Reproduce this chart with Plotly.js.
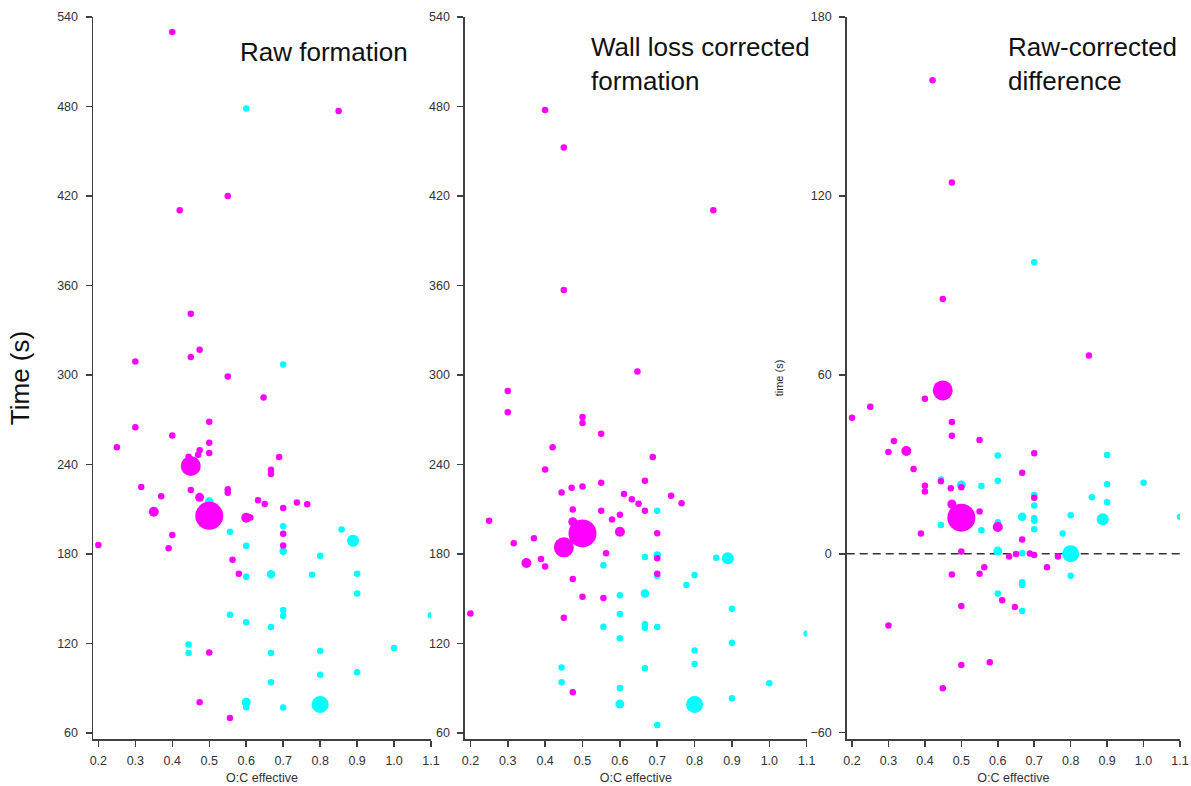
<!DOCTYPE html>
<html>
<head>
<meta charset="utf-8">
<script src="https://cdn.plot.ly/plotly-3.0.1.min.js"></script>
<style>
  html, body { margin: 0; padding: 0; background: #ffffff; }
  #chart { width: 1191px; height: 786px; }
</style>
</head>
<body>
<div id="chart"></div>
<script>
// ---- Raw formation: time (s) vs effective O:C ----
const rawMagentaOC = [0.4, 0.85, 0.55, 0.42, 0.45, 0.474, 0.45, 0.3, 0.55, 0.647, 0.3, 0.5, 0.4, 0.25, 0.5, 0.474, 0.47, 0.5, 0.689, 0.444, 0.45, 0.667, 0.667, 0.316, 0.45, 0.55, 0.55, 0.37, 0.474, 0.632, 0.65, 0.737, 0.765, 0.7, 0.35, 0.5, 0.6, 0.611, 0.4, 0.7, 0.2, 0.7, 0.39, 0.563, 0.58, 0.5, 0.474, 0.556];
const rawMagentaTime = [530, 477, 420, 410.5, 341, 317, 312, 309, 299, 285, 265, 268.6, 259.5, 251.5, 254.6, 249.5, 246.5, 247.7, 245, 245.2, 239, 236.5, 233.6, 225, 223, 223.5, 221, 218.8, 218, 216, 213.5, 214.6, 213.3, 210.8, 208.3, 205.6, 204.3, 204.5, 192.7, 193.6, 186, 185.7, 183.8, 176.2, 166.8, 114, 80.6, 70];
const rawMagentaWeight = [6.5, 6.5, 6.5, 6.5, 6.5, 6.5, 6.5, 6.5, 6.5, 6.5, 6.5, 6.5, 6.5, 6.5, 6.5, 6.5, 6.5, 6.5, 6.5, 6.5, 20, 6.5, 6.5, 6.5, 6.5, 6.5, 6.5, 6.5, 9, 6.5, 6.5, 6.5, 6.5, 6.5, 10, 28, 10, 6.5, 6.5, 6.5, 6.5, 6.5, 6.5, 6.5, 6.5, 6.5, 6.5, 6.5];

const rawCyanOC = [0.6, 0.7, 0.5, 0.7, 0.556, 0.858, 0.889, 0.6, 0.7, 0.8, 0.667, 0.6, 0.778, 0.9, 0.9, 0.7, 0.7, 0.556, 0.6, 0.667, 0.444, 0.444, 0.667, 0.8, 1.0, 0.8, 0.9, 0.667, 0.6, 0.6, 0.7, 0.8, 1.1];
const rawCyanTime = [478.7, 307, 215, 198.7, 194.9, 196.5, 188.9, 185.5, 181.8, 178.8, 166.4, 164.8, 166.1, 166.8, 153.6, 142.4, 138.6, 139.3, 134.2, 131, 119.4, 113.6, 113.6, 115, 117, 99.1, 100.7, 94, 80.6, 77.3, 77.2, 79.2, 139];
const rawCyanWeight = [6.5, 6.5, 9, 6.5, 6.5, 6.5, 12, 6.5, 7.5, 6.5, 8.5, 6.5, 6.5, 6.5, 6.5, 6.5, 6.5, 6.5, 6.5, 6.5, 6.5, 6.5, 6.5, 6.5, 6.5, 6.5, 6.5, 6.5, 9, 6.5, 6.5, 17, 6.5];

// ---- Wall loss corrected formation ----
const corMagentaOC = [0.4, 0.45, 0.85, 0.45, 0.647, 0.3, 0.3, 0.5, 0.5, 0.55, 0.42, 0.688, 0.4, 0.667, 0.55, 0.5, 0.471, 0.444, 0.611, 0.632, 0.65, 0.737, 0.765, 0.474, 0.55, 0.667, 0.6, 0.579, 0.25, 0.474, 0.5, 0.6, 0.7, 0.37, 0.45, 0.316, 0.563, 0.7, 0.389, 0.35, 0.4, 0.7, 0.474, 0.5, 0.556, 0.2, 0.45, 0.474];
const corMagentaTime = [477.6, 452.5, 410.5, 357, 302.4, 289.3, 275.1, 271.8, 267.8, 260.6, 251.5, 245, 236.7, 229.1, 227.8, 225.3, 224.4, 221.3, 220.2, 216.8, 213.7, 219, 214, 209.9, 209, 209, 206.3, 203.2, 202.3, 201.6, 193.8, 194.9, 194, 190.5, 184.5, 187.3, 180.6, 177.1, 176.6, 174, 171.7, 166.8, 163.2, 151.4, 150.5, 140.2, 137.3, 87.3];
const corMagentaWeight = [6.5, 6.5, 6.5, 6.5, 6.5, 6.5, 6.5, 6.5, 6.5, 6.5, 6.5, 6.5, 6.5, 6.5, 6.5, 6.5, 6.5, 6.5, 6.5, 6.5, 6.5, 6.5, 6.5, 6.5, 6.5, 6.5, 6.5, 6.5, 6.5, 9, 28, 10, 6.5, 6.5, 20, 6.5, 6.5, 6.5, 6.5, 10, 6.5, 6.5, 6.5, 6.5, 6.5, 6.5, 6.5, 6.5];

const corCyanOC = [0.7, 0.5, 0.7, 0.667, 0.858, 0.889, 0.556, 0.7, 0.8, 0.778, 0.667, 0.6, 0.9, 0.6, 0.556, 0.667, 0.667, 0.7, 0.6, 0.9, 0.8, 0.8, 0.444, 0.667, 0.444, 1.0, 0.6, 0.9, 0.6, 0.8, 0.7, 1.1];
const corCyanTime = [209, 192, 179.3, 178, 177.5, 177.1, 172.4, 165.4, 165.9, 159.2, 153.6, 152.3, 143.3, 139.8, 131.2, 132.9, 130.6, 131, 123.5, 120.5, 115.4, 106.2, 104, 103.4, 94, 93.3, 90.2, 83.3, 79.4, 79.2, 65.4, 126.8];
const corCyanWeight = [6.5, 9, 7.5, 6.5, 6.5, 12, 6.5, 6.5, 6.5, 6.5, 8.5, 6.5, 6.5, 6.5, 6.5, 6.5, 6.5, 6.5, 6.5, 6.5, 6.5, 6.5, 6.5, 6.5, 6.5, 6.5, 6.5, 6.5, 9, 17, 6.5, 6.5];

// ---- Raw - corrected difference ----
const difMagentaOC = [0.421, 0.474, 0.449, 0.85, 0.449, 0.4, 0.25, 0.2, 0.474, 0.474, 0.55, 0.315, 0.3, 0.349, 0.7, 0.369, 0.667, 0.4, 0.444, 0.5, 0.471, 0.4, 0.7, 0.474, 0.55, 0.5, 0.6, 0.389, 0.667, 0.5, 0.631, 0.65, 0.688, 0.7, 0.765, 0.735, 0.563, 0.474, 0.55, 0.612, 0.5, 0.647, 0.3, 0.578, 0.5, 0.449];
const difMagentaTime = [158.8, 124.5, 85.4, 66.5, 54.8, 52, 49.3, 45.6, 44.2, 39.6, 38.2, 37.8, 34.1, 34.5, 33.7, 28.4, 27.2, 22.8, 24.3, 22.3, 22, 20.9, 18.8, 16.7, 14.2, 12.1, 9, 6.8, 4.8, 0.8, -0.9, -0.1, 0.1, -0.4, -0.9, -4.5, -4.5, -6.9, -6.7, -15.6, -17.5, -17.8, -24, -36.4, -37.3, -45.1];
const difMagentaWeight = [6.5, 6.5, 6.5, 6.5, 20, 6.5, 6.5, 6.5, 6.5, 6.5, 6.5, 6.5, 6.5, 10, 6.5, 6.5, 6.5, 6.5, 6.5, 6.5, 6.5, 6.5, 6.5, 9, 6.5, 28, 10, 6.5, 6.5, 6.5, 6.5, 6.5, 6.5, 6.5, 6.5, 6.5, 6.5, 6.5, 6.5, 6.5, 6.5, 6.5, 6.5, 6.5, 6.5, 6.5];

const difCyanOC = [0.7, 0.6, 0.9, 0.444, 0.6, 0.5, 0.555, 0.9, 1.0, 0.7, 0.858, 0.9, 0.7, 0.8, 0.888, 0.667, 0.7, 0.7, 1.1, 0.444, 0.6, 0.555, 0.7, 0.778, 0.6, 0.667, 0.8, 0.8, 0.667, 0.667, 0.6, 0.667];
const difCyanTime = [97.8, 33, 33.1, 24.9, 24.5, 23.1, 22.7, 23.3, 23.8, 19.7, 19, 17.3, 16.2, 12.9, 11.6, 12.4, 11.9, 11.1, 12.4, 9.7, 10.6, 7.9, 8.2, 6.8, 0.9, 0.2, 0, -7.4, -9.5, -10.5, -13.3, -19.2];
const difCyanWeight = [6.5, 6.5, 6.5, 6.5, 6.5, 9, 6.5, 6.5, 6.5, 6.5, 6.5, 6.5, 6.5, 6.5, 12, 8.5, 6.5, 6.5, 6.5, 6.5, 6.5, 6.5, 6.5, 6.5, 9, 6.5, 17, 6.5, 6.5, 6.5, 6.5, 6.5];

const panelTitles = ["Raw formation", "Wall loss corrected<br>formation", "Raw-corrected<br>difference"];

const MAGENTA = "#FF00FF";
const CYAN = "#00FFFF";
const FONT = "Liberation Sans, Arial, Helvetica, sans-serif";

function dots(x, y, w, color, xa, ya) {
  return {
    type: "scatter", mode: "markers", x: x, y: y, xaxis: xa, yaxis: ya,
    marker: { color: color, size: w, sizemode: "diameter", opacity: 1, line: { width: 0 } },
    hoverinfo: "x+y", showlegend: false
  };
}

// cyan drawn first so magenta sits on top where they overlap
const data = [
  dots(rawCyanOC, rawCyanTime, rawCyanWeight, CYAN, "x", "y"),
  dots(rawMagentaOC, rawMagentaTime, rawMagentaWeight, MAGENTA, "x", "y"),
  dots(corCyanOC, corCyanTime, corCyanWeight, CYAN, "x2", "y2"),
  dots(corMagentaOC, corMagentaTime, corMagentaWeight, MAGENTA, "x2", "y2"),
  dots(difCyanOC, difCyanTime, difCyanWeight, CYAN, "x3", "y3"),
  dots(difMagentaOC, difMagentaTime, difMagentaWeight, MAGENTA, "x3", "y3")
];

const axisLine = {
  showline: true, linecolor: "#404040", linewidth: 1.5,
  ticks: "outside", ticklen: 6, tickwidth: 1.5, tickcolor: "#404040",
  showgrid: false, zeroline: false,
  tickfont: { family: FONT, size: 12.5, color: "#333333" }
};

function xAxis(domain, anchor) {
  return Object.assign({}, axisLine, {
    domain: domain, anchor: anchor, range: [0.1855, 1.1],
    tick0: 0.2, dtick: 0.1, tickformat: ".1f", ticklabelstandoff: 3,
    title: { text: "O:C effective", font: { family: FONT, size: 12.5, color: "#333333" }, standoff: 6 }
  });
}

function yAxis(anchor, range, tick0, extra) {
  return Object.assign({}, axisLine, {
    anchor: anchor, range: range, tick0: tick0, dtick: 60, ticklabelstandoff: 5
  }, extra || {});
}

const layout = {
  width: 1191, height: 786,
  margin: { l: 93, r: 11, t: 17, b: 47 },
  paper_bgcolor: "#ffffff", plot_bgcolor: "#ffffff",
  font: { family: FONT },
  xaxis: xAxis([0, 0.311], "y"),
  xaxis2: xAxis([0.3422, 0.6566], "y2"),
  xaxis3: xAxis([0.6934, 1], "y3"),
  yaxis: yAxis("x", [56, 540], 60, {
    title: { text: "Time (s)", font: { family: FONT, size: 26, color: "#111111" }, standoff: 20 }
  }),
  yaxis2: yAxis("x2", [56, 540], 60),
  yaxis3: yAxis("x3", [-62.1, 180], 0, {
    title: { text: "time (s)", font: { family: FONT, size: 11, color: "#222222" }, standoff: 24 }
  }),
  shapes: [{
    type: "line", xref: "x3 domain", yref: "y3", x0: 0, x1: 1, y0: 0, y1: 0,
    line: { color: "#333333", width: 1.5, dash: "8px,5px" }, layer: "below"
  }],
  annotations: [
    { text: panelTitles[0], xref: "paper", yref: "paper", x: 0.1330, y: 0.952,
      xanchor: "left", yanchor: "middle", align: "left", showarrow: false,
      font: { family: FONT, size: 26, color: "#111111" } },
    { text: panelTitles[1], xref: "paper", yref: "paper", x: 0.4562, y: 0.9345,
      xanchor: "left", yanchor: "middle", align: "left", showarrow: false,
      font: { family: FONT, size: 26, color: "#111111" } },
    { text: panelTitles[2], xref: "paper", yref: "paper", x: 0.8397, y: 0.9345,
      xanchor: "left", yanchor: "middle", align: "left", showarrow: false,
      font: { family: FONT, size: 26, color: "#111111" } }
  ]
};

Plotly.newPlot("chart", data, layout, { displayModeBar: false, staticPlot: true });
</script>
</body>
</html>
